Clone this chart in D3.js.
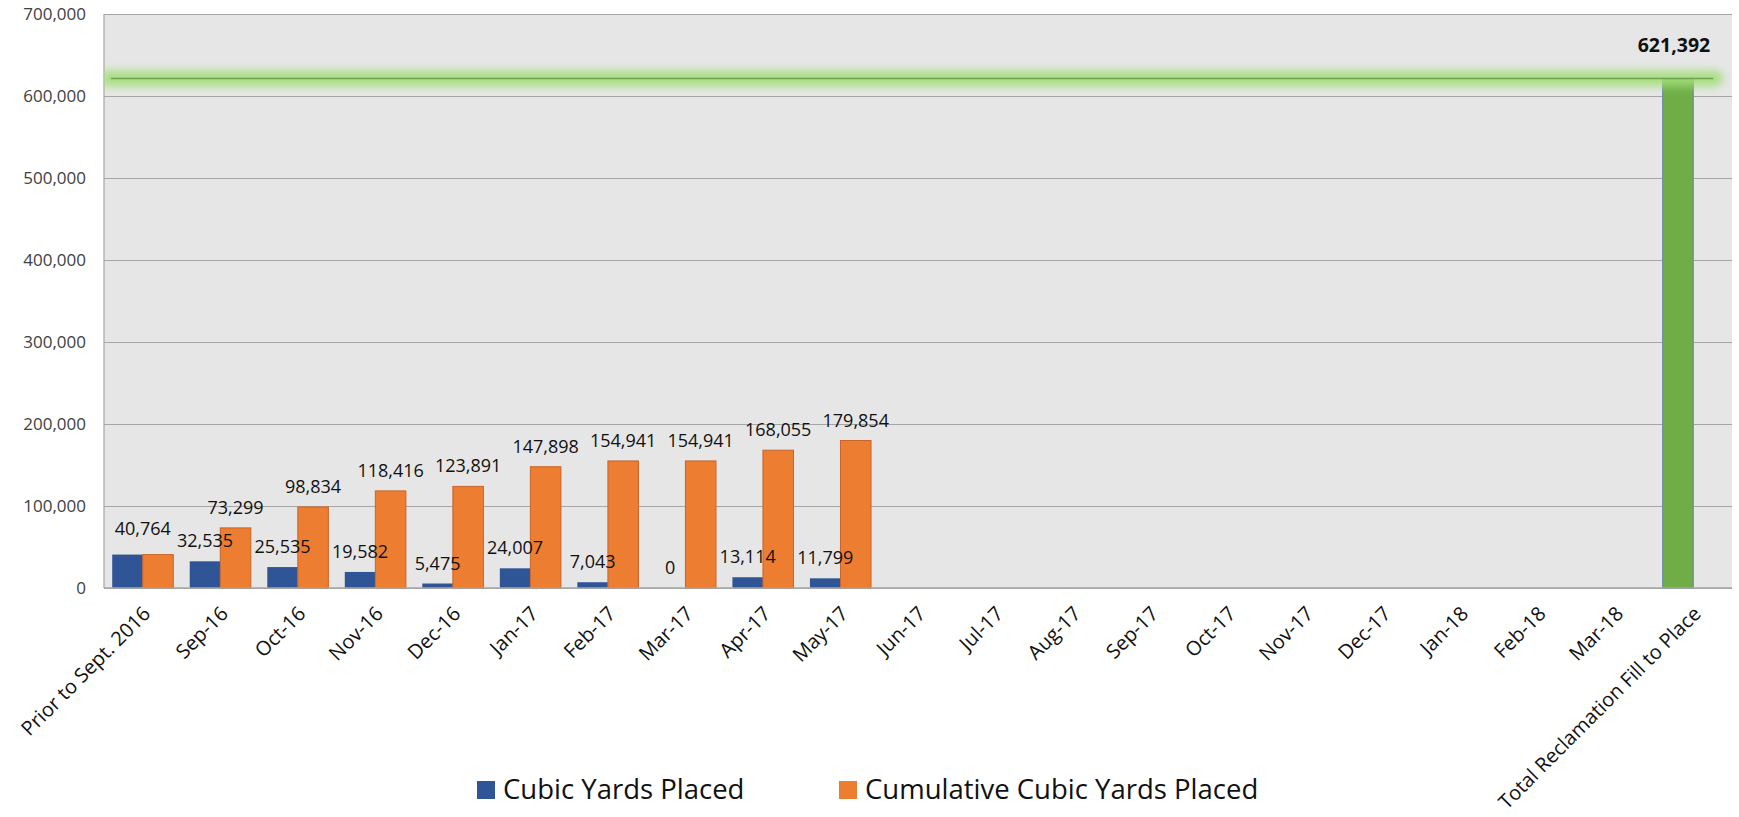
<!DOCTYPE html>
<html>

<head>
    <meta charset="utf-8">
    <script src="https://cdn.jsdelivr.net/npm/d3@7"></script>
    <style>
        body { margin: 0; background: #fff; }
        text { font-family: "Open Sans", sans-serif; }
    </style>
</head>

<body>
    <div id="chart"></div>
    <script>
        // categories along the x axis
        const categories = ["Prior to Sept. 2016", "Sep-16", "Oct-16", "Nov-16", "Dec-16", "Jan-17", "Feb-17",
            "Mar-17", "Apr-17", "May-17", "Jun-17", "Jul-17", "Aug-17", "Sep-17", "Oct-17", "Nov-17", "Dec-17",
            "Jan-18", "Feb-18", "Mar-18", "Total Reclamation Fill to Place"];
        // monthly placed (last point is the total target, shown in green)
        const placed = [40764, 32535, 25535, 19582, 5475, 24007, 7043, 0, 13114, 11799,
            null, null, null, null, null, null, null, null, null, null, 621392];
        const cumulative = [40764, 73299, 98834, 118416, 123891, 147898, 154941, 154941, 168055, 179854,
            null, null, null, null, null, null, null, null, null, null, null];
        const yTicks = [0, 100000, 200000, 300000, 400000, 500000, 600000, 700000];
        const seriesNames = ["Cubic Yards Placed", "Cumulative Cubic Yards Placed"];
        const totalTarget = 621392;

        const W = 1739, H = 817;
        const margin = { top: 14, left: 104, right: 7, bottom: 229 };
        const innerW = W - margin.left - margin.right;
        const innerH = H - margin.top - margin.bottom;
        const blue = "#2F5597", orange = "#ED7D31", green = "#70AD47";
        const fmt = d3.format(",");

        const svg = d3.select("#chart").append("svg").attr("width", W).attr("height", H);

        const defs = svg.append("defs");
        defs.append("filter").attr("id", "glow")
            .attr("filterUnits", "userSpaceOnUse")
            .attr("x", 0).attr("y", 0).attr("width", W).attr("height", 200)
            .append("feGaussianBlur").attr("stdDeviation", 4.5);

        const g = svg.append("g").attr("transform", `translate(${margin.left},${margin.top})`);

        const x = d3.scaleBand().domain(categories).range([0, innerW]);
        const y = d3.scaleLinear().domain([0, 700000]).range([innerH, 0]);
        const barW = x.bandwidth() * 0.394;

        // plot background
        g.append("rect").attr("width", innerW).attr("height", innerH).attr("fill", "#E6E6E6");

        // gridlines + y labels
        g.append("g")
            .call(d3.axisLeft(y).tickValues(yTicks).tickSize(-innerW).tickFormat(fmt).tickPadding(18))
            .call(a => a.select(".domain").remove())
            .call(a => a.selectAll("line").attr("stroke", "#A6A6A6").attr("stroke-width", 1.2))
            .call(a => a.selectAll("text").attr("fill", "#404040").style("font-size", "17px"));

        g.append("line").attr("x1", 0).attr("x2", 0).attr("y1", 0).attr("y2", innerH)
            .attr("stroke", "#A6A6A6").attr("stroke-width", 1.2);

        const cx = c => x(c) + x.bandwidth() / 2;

        // placed bars
        g.selectAll(".placed").data(categories.map((c, i) => ({ c, v: placed[i], i })).filter(d => d.v != null))
            .join("rect")
            .attr("x", d => cx(d.c) - barW)
            .attr("y", d => y(d.v))
            .attr("width", barW)
            .attr("height", d => innerH - y(d.v))
            .attr("fill", d => d.i === categories.length - 1 ? green : blue)
            .attr("stroke", d => d.i === categories.length - 1 ? "#6C8CA8" : "none")
            .attr("stroke-width", 1.2);

        // cumulative bars
        g.selectAll(".cum").data(categories.map((c, i) => ({ c, v: cumulative[i], i })).filter(d => d.v != null))
            .join("rect")
            .attr("x", d => cx(d.c))
            .attr("y", d => y(d.v))
            .attr("width", barW)
            .attr("height", d => innerH - y(d.v))
            .attr("fill", orange)
            .attr("stroke", "#C8642A")
            .attr("stroke-width", 1);

        // bottom axis line
        g.append("line").attr("x1", 0).attr("x2", innerW).attr("y1", innerH).attr("y2", innerH)
            .attr("stroke", "#A6A6A6").attr("stroke-width", 1.5);

        // target line with glow
        const ly = y(totalTarget);
        const lastC = categories[categories.length - 1];
        g.append("line").attr("x1", 4).attr("x2", cx(lastC) + 22).attr("y1", ly).attr("y2", ly)
            .attr("stroke", "#A2DE78").attr("stroke-width", 16).attr("stroke-linecap", "round")
            .attr("opacity", 0.9).attr("filter", "url(#glow)");
        g.append("line").attr("x1", 7).attr("x2", cx(lastC) + 20).attr("y1", ly).attr("y2", ly)
            .attr("stroke", "#6FA055").attr("stroke-width", 1.6);

        // data labels
        const labels = g.append("g").style("font-size", "18px").attr("fill", "#111").attr("text-anchor", "middle");
        placed.forEach((v, i) => {
            if (v == null) return;
            const c = categories[i];
            const last = i === categories.length - 1;
            const same = cumulative[i] === v;
            labels.append("text")
                .attr("x", same || last ? cx(c) - (last ? barW / 2 + 4 : 0) : cx(c) - barW / 2)
                .attr("y", y(v) - (last ? 26 : same ? 20 : 14))
                .style("font-weight", last ? "bold" : null)
                .style("font-size", last ? "19.5px" : null)
                .text(fmt(v));
        });
        cumulative.forEach((v, i) => {
            if (v == null || placed[i] === v) return;
            const c = categories[i];
            labels.append("text")
                .attr("x", cx(c) + barW / 2)
                .attr("y", y(v) - 14)
                .text(fmt(v));
        });

        // x labels rotated
        g.append("g").selectAll("text").data(categories).join("text")
            .attr("transform", c => `translate(${cx(c) + 4},${innerH + 22}) rotate(-45)`)
            .attr("text-anchor", "end")
            .attr("dy", "0.35em")
            .attr("fill", "#111")
            .style("font-size", "20px")
            .text(c => c);

        // legend
        const legend = svg.append("g");
        const legendItems = [
            { name: seriesNames[0], color: blue, x: 477 },
            { name: seriesNames[1], color: orange, x: 839 }
        ];
        legendItems.forEach(d => {
            legend.append("rect").attr("x", d.x).attr("y", 781).attr("width", 18).attr("height", 18)
                .attr("fill", d.color);
            legend.append("text").attr("x", d.x + 26).attr("y", 799)
                .attr("fill", "#111").style("font-size", "27.5px").text(d.name);
        });
    </script>
</body>

</html>
